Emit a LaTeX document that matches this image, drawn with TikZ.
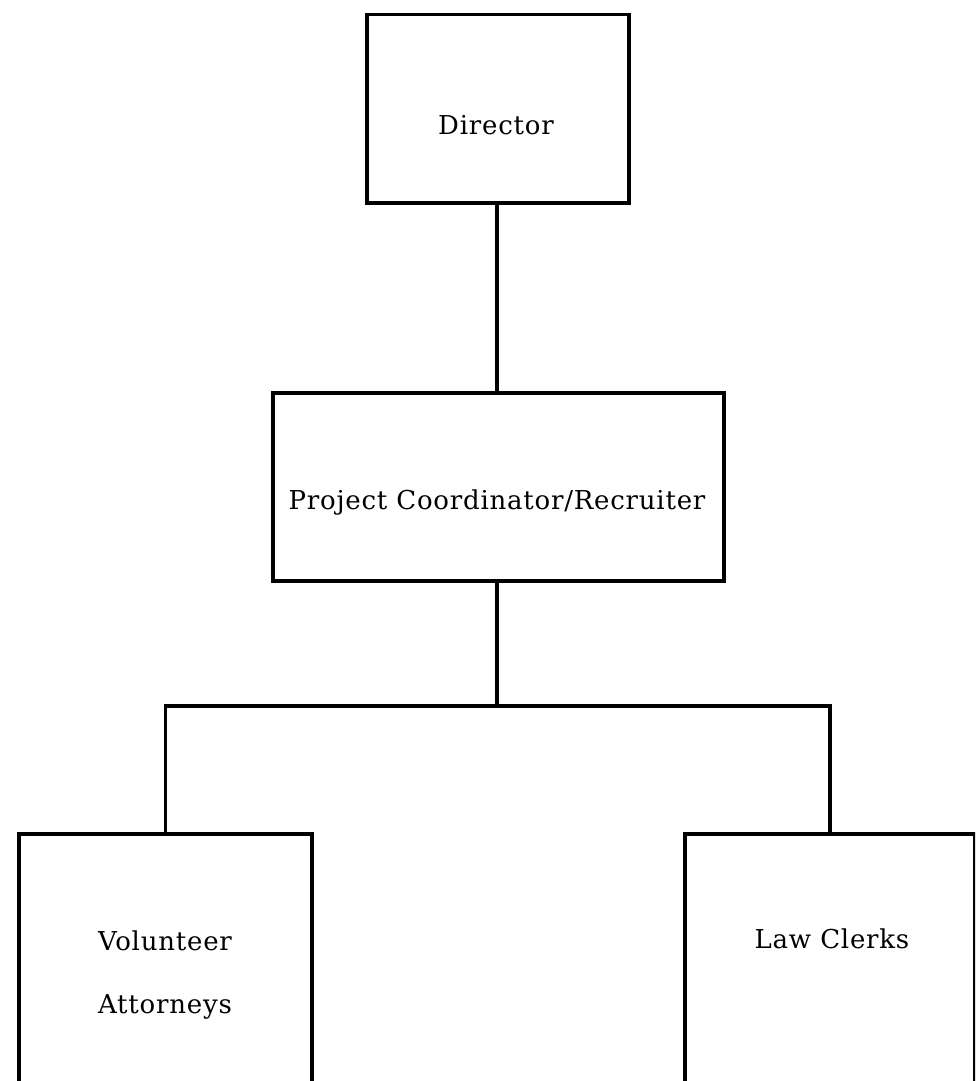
\documentclass[tikz,border=0pt]{standalone}
\usepackage{fontspec}
\setmainfont{DejaVu Serif}[LetterSpace=3]
\usetikzlibrary{positioning}

\tikzset{
  orgbox/.style={draw, line width=3.5pt, inner sep=0pt, anchor=north west},
  orglabel/.style={inner sep=0pt, anchor=base, align=center,
    font=\fontsize{26}{63}\selectfont},
  link/.style={line width=3.5pt, line cap=rect}
}

\begin{document}
\begin{tikzpicture}[x=1pt, y=-1pt]
  \useasboundingbox (0,0) rectangle (975,1081);
  \clip (0,0) rectangle (975,1081);

  % boxes (the two lower ones run off the bottom edge)
  \node[orgbox, minimum width=262pt, minimum height=188pt] (dir) at (365,13) {};
  \node[orgbox, minimum width=451pt, minimum height=188pt] (pc)  at (271,391) {};
  \node[orgbox, minimum width=293pt, minimum height=320pt] (va)  at (17,832) {};
  \node[orgbox, minimum width=290pt, minimum height=320pt] (lc)  at (683,832) {};

  % labels (base anchor of a two-line label sits on its last line)
  \node[orglabel] (dirtxt) at (496,134) {Director};
  \node[orglabel] (pctxt)  at (497,509) {Project Coordinator/Recruiter};
  \node[orglabel] (vatxt)  at (165,1013) {Volunteer\\Attorneys};
  \node[orglabel] (lctxt)  at (832,948) {Law Clerks};

  % connectors
  \coordinate (bus) at (497,706);
  \draw[link] (dir.south -| bus) -- (pc.north -| bus);
  \draw[link] (pc.south -| bus) -- (bus);
  \draw[link] (va.north) |- (bus) -| (lc.north);
\end{tikzpicture}
\end{document}
